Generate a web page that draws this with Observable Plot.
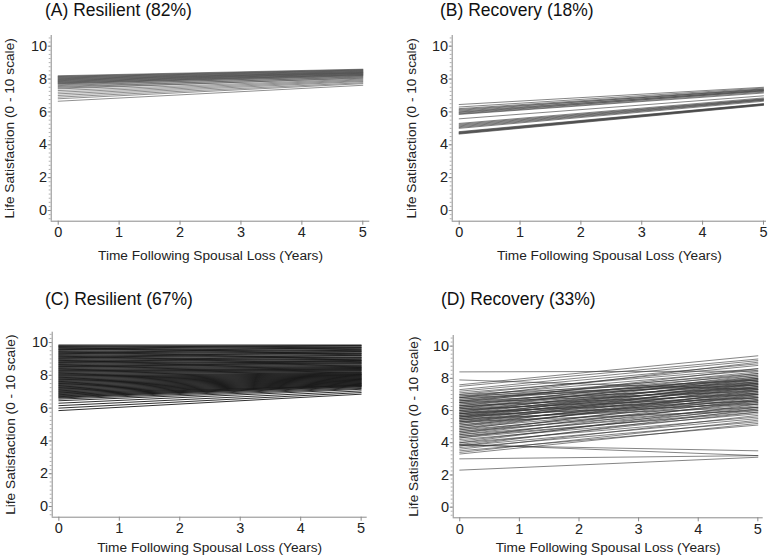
<!DOCTYPE html>
<html>
<head>
<meta charset="utf-8">
<script src="https://cdn.jsdelivr.net/npm/d3@7"></script>
<script src="https://cdn.jsdelivr.net/npm/@observablehq/plot@0.6"></script>
<style>
  html, body { margin: 0; padding: 0; background: #fff; }
  #wrap { position: relative; width: 772px; height: 559px; overflow: hidden; font-family: "Liberation Sans", Arial, sans-serif; }
  .panel { position: absolute; }
  .title { position: absolute; font-size: 17.5px; line-height: 20px; color: #111; white-space: nowrap; }
</style>
</head>
<body>
<div id="wrap"></div>
<script>
// ---------- data ----------
const years = [0, 5];
const xTicks = [0, 1, 2, 3, 4, 5];
const yTicks = [0, 2, 4, 6, 8, 10];
const titles = ["(A) Resilient (82%)", "(B) Recovery (18%)", "(C) Resilient (67%)", "(D) Recovery (33%)"];
const xLabel = "Time Following Spousal Loss (Years)";
const yLabel = "Life Satisfaction (0 - 10 scale)";

// Panel A: value at year 0 and year 5 for each trajectory
const aStart = [8.2, 8.17, 8.15, 8.12, 8.1, 8.07, 8.05, 8.02, 8.0, 7.97, 7.95, 7.92, 7.9, 7.87, 7.85, 7.82, 7.8, 7.77, 7.75, 7.72, 7.7, 7.65, 7.6, 7.55, 7.5, 7.45, 7.4, 7.3, 7.2, 7.1, 7.0, 6.9, 6.8, 6.65];
const aEnd   = [8.6, 8.55, 8.58, 8.5, 8.55, 8.45, 8.52, 8.4, 8.48, 8.38, 8.45, 8.35, 8.42, 8.32, 8.38, 8.28, 8.35, 8.25, 8.3, 8.22, 8.27, 8.18, 8.22, 8.12, 8.15, 8.05, 8.08, 8.0, 7.95, 7.9, 7.85, 7.78, 7.72, 7.62];

// Panel B
const bStart = [6.45, 6.3, 6.2, 6.15, 6.1, 6.05, 6.0, 5.97, 5.92, 5.88, 5.85, 5.58, 5.3, 5.25, 5.2, 5.15, 5.1, 5.05, 5.0, 4.8, 4.77, 4.75, 4.72, 4.7, 4.68, 4.65];
const bEnd   = [7.5, 7.45, 7.4, 7.35, 7.38, 7.3, 7.32, 7.25, 7.28, 7.2, 7.15, 6.98, 6.85, 6.8, 6.78, 6.75, 6.72, 6.7, 6.65, 6.5, 6.49, 6.47, 6.46, 6.44, 6.42, 6.4];

// Panel C
const cStart = [9.85, 9.8, 9.78, 9.75, 9.7, 9.66, 9.62, 9.58, 9.55, 9.5, 9.46, 9.42, 9.38, 9.34, 9.3, 9.26, 9.22, 9.18, 9.14, 9.1, 9.06, 9.02, 8.98, 8.94, 8.9, 8.86, 8.82, 8.78, 8.74, 8.7, 8.66, 8.62, 8.58, 8.54, 8.5, 8.46, 8.42, 8.38, 8.34, 8.3, 8.26, 8.22, 8.18, 8.14, 8.1, 8.06, 8.02, 7.98, 7.94, 7.9, 7.86, 7.82, 7.78, 7.74, 7.7, 7.66, 7.62, 7.58, 7.54, 7.5, 7.46, 7.42, 7.38, 7.34, 7.3, 7.26, 7.22, 7.18, 7.14, 7.1, 7.06, 7.02, 6.98, 6.94, 6.9, 6.86, 6.82, 6.78, 6.74, 6.7, 6.66, 6.62, 6.55, 6.45, 6.3, 6.15, 6.0, 5.85];
const cEnd   = [9.85, 9.7, 9.82, 9.6, 9.78, 9.5, 9.72, 9.45, 9.65, 9.35, 9.58, 9.3, 9.5, 9.2, 9.42, 9.1, 9.35, 9.05, 9.28, 8.95, 9.2, 8.9, 9.12, 8.82, 9.05, 8.75, 8.98, 8.7, 8.9, 8.62, 8.85, 8.55, 8.78, 8.48, 8.7, 8.42, 8.62, 8.35, 8.55, 8.3, 8.48, 8.22, 8.42, 8.16, 8.35, 8.1, 8.28, 8.05, 8.2, 8.0, 8.15, 7.95, 8.1, 7.9, 8.05, 7.85, 8.0, 7.8, 7.95, 7.75, 7.9, 7.7, 7.85, 7.65, 7.8, 7.6, 7.75, 7.55, 7.7, 7.5, 7.65, 7.45, 7.6, 7.4, 7.55, 7.38, 7.5, 7.35, 7.45, 7.32, 7.4, 7.3, 7.25, 7.2, 7.15, 7.05, 6.95, 6.85];

// Panel D
const dStart = [8.4, 7.9, 7.6, 7.5, 7.3, 7.2, 7.1, 7.0, 6.9, 6.8, 6.8, 6.7, 6.7, 6.6, 6.6, 6.5, 6.5, 6.4, 6.4, 6.3, 6.3, 6.2, 6.2, 6.1, 6.1, 6.0, 6.0, 5.9, 5.9, 5.8, 5.8, 5.8, 5.7, 5.7, 5.6, 5.6, 5.6, 5.5, 5.5, 5.4, 5.4, 5.3, 5.3, 5.2, 5.2, 5.1, 5.1, 5.0, 5.0, 4.9, 4.9, 4.8, 4.8, 4.7, 4.7, 4.6, 4.6, 4.5, 4.5, 4.4, 4.4, 4.3, 4.3, 4.2, 4.1, 4.0, 4.0, 3.9, 3.9, 3.85, 3.8, 3.8, 3.7, 3.6, 3.5, 3.4, 3.3, 3.0, 2.3, 6.5, 6.3, 6.1, 5.9, 5.7, 5.5, 5.3, 6.6, 6.8, 6.9, 7.0, 6.2, 6.0, 5.8, 5.6, 5.4];
const dEnd   = [8.45, 7.3, 9.4, 9.2, 9.1, 8.9, 8.6, 8.8, 8.5, 8.3, 9.0, 8.2, 7.9, 8.4, 8.0, 7.8, 8.6, 8.1, 7.6, 7.9, 8.3, 7.7, 8.0, 7.5, 8.2, 7.8, 7.3, 7.6, 8.1, 7.4, 7.9, 7.0, 7.7, 7.2, 7.5, 8.0, 6.9, 7.3, 7.8, 7.1, 7.6, 6.8, 7.4, 7.0, 7.7, 6.7, 7.2, 6.9, 7.5, 6.6, 7.1, 6.4, 7.3, 6.8, 6.2, 6.5, 7.0, 6.1, 6.7, 6.3, 5.9, 6.6, 6.0, 5.8, 6.2, 5.6, 6.4, 3.2, 5.9, 3.5, 5.5, 6.1, 5.3, 5.7, 5.1, 5.4, 5.2, 3.2, 3.1, 7.2, 7.0, 6.8, 6.6, 6.4, 6.2, 6.0, 7.4, 7.6, 7.7, 7.9, 7.4, 7.1, 6.8, 6.6, 6.5];

// ---------- layout / style per panel ----------
const panels = [
  { start: aStart, end: aEnd, title: titles[0], left: 0,   top: 0,   w: 386, h: 280, ml: 50.7, mr: 16.7, mt: 35,  mb: 59.3, xd: [-0.115, 5.115], yd: [-0.65, 10.65], tx: 45,  ty: 0,   stroke: "#505050", sw: 0.75, so: 0.85, ylx: 9.5, xly: 255 },
  { start: bStart, end: bEnd, title: titles[1], left: 386, top: 0,   w: 386, h: 280, ml: 65.7, mr: 6,    mt: 35,  mb: 59.3, xd: [-0.115, 5.05],  yd: [-0.65, 10.65], tx: 440, ty: 0,   stroke: "#404040", sw: 0.75, so: 0.85, ylx: 25, xly: 255 },
  { start: cStart, end: cEnd, title: titles[2], left: 0,   top: 280, w: 386, h: 279, ml: 51.7, mr: 19.3, mt: 51.7, mb: 42.3, xd: [-0.11, 5.1],   yd: [-0.65, 10.63], tx: 45,  ty: 289, stroke: "#1a1a1a", sw: 1.0, so: 0.9, ylx: 10, xly: 266.7 },
  { start: dStart, end: dEnd, title: titles[3], left: 386, top: 280, w: 386, h: 279, ml: 66.7, mr: 9.3,  mt: 55,  mb: 41.7, xd: [-0.11, 5.09],  yd: [-0.66, 10.66], tx: 441, ty: 289, stroke: "#333333", sw: 0.75, so: 0.8, ylx: 26.7, xly: 266.7 }
];

const wrap = document.getElementById("wrap");
const axisColor = "#8a8a8a";

panels.forEach((p, pi) => {
  const rows = [];
  p.start.forEach((s, i) => {
    rows.push({ id: i, t: years[0], v: s });
    rows.push({ id: i, t: years[1], v: p.end[i] });
  });
  const minor = d3.range(-0.5, 10.6, 0.25);
  const chart = Plot.plot({
    width: p.w,
    height: p.h,
    marginLeft: p.ml,
    marginRight: p.mr,
    marginTop: p.mt,
    marginBottom: p.mb,
    x: { domain: p.xd },
    y: { domain: p.yd },
    style: { fontFamily: "'Liberation Sans', Arial, sans-serif", fontSize: "14.5px", color: "#222", background: "transparent", overflow: "visible" },
    marks: [
      Plot.line(rows, { x: "t", y: "v", z: "id", stroke: p.stroke, strokeWidth: p.sw, strokeOpacity: p.so }),
      Plot.ruleX([p.xd[0]], { stroke: axisColor, strokeWidth: 1 }),
      Plot.ruleY([p.yd[0]], { stroke: axisColor, strokeWidth: 1 }),
      Plot.axisY({ ticks: minor, tickSize: 2, tickFormat: () => "", stroke: "#b0b0b0", label: null }),
      Plot.axisY({ ticks: yTicks, tickSize: 3, tickPadding: 1, tickFormat: d3.format("d"), stroke: axisColor, label: null, fill: "#222" }),
      Plot.axisX({ ticks: xTicks, tickSize: 4, tickPadding: 2, tickFormat: d3.format("d"), stroke: axisColor, label: null, fill: "#222" }),
      Plot.text([yLabel], { text: d => d, frameAnchor: "left", dx: p.ylx - p.ml, rotate: -90, textAnchor: "middle", lineAnchor: "middle", fontSize: 13.7, fill: "#222" }),
      Plot.text([xLabel], { text: d => d, frameAnchor: "bottom", dy: p.xly - (p.h - p.mb), textAnchor: "middle", lineAnchor: "middle", fontSize: 13.7, fill: "#222" })
    ]
  });
  const div = document.createElement("div");
  div.className = "panel";
  div.style.left = p.left + "px";
  div.style.top = p.top + "px";
  div.appendChild(chart);
  wrap.appendChild(div);

  const t = document.createElement("div");
  t.className = "title";
  t.style.left = p.tx + "px";
  t.style.top = p.ty + "px";
  t.textContent = p.title;
  wrap.appendChild(t);
});
</script>
</body>
</html>
